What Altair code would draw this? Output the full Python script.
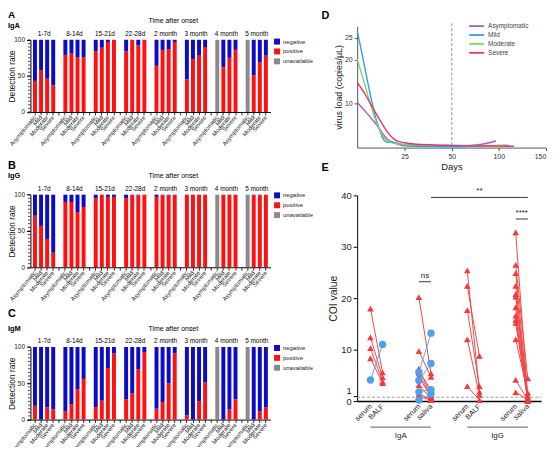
import altair as alt
import pandas as pd

FONT = "Liberation Sans"

# ---------------- panels A-C : detection rate ----------------
groups = ["1-7d", "8-14d", "15-21d", "22-28d", "2 month", "3 month", "4 month", "5 month"]
severities = ["Asymptomatic", "Mild", "Moderate", "Severe"]
statuses = ["negative", "positive", "unavailable"]
status_colors = ["#0c0cc4", "#ff1111", "#8a8a8a"]

# positive rate (%) per group x severity; None = unavailable
iga_positive = [43, 58, 46, 37,
                79, 81, 76, 76,
                84, 89, 97, 100,
                84, 100, 92, 100,
                64, 86, 87, 97,
                45, 73, 78, 90,
                None, 62, 75, 86,
                None, 51, 69, 78]
igg_positive = [71, 57, 39, 20,
                90, 90, 76, 83,
                95, 100, 97, 97,
                95, 100, 99, 100,
                97, 100, 99, 100,
                100, 100, 100, 100,
                None, 100, 100, 100,
                None, 100, 99, 100]
igm_positive = [19, 0, 17, 14,
                11, 21, 42, 56,
                17, 26, 71, 91,
                28, 36, 69, 93,
                15, 24, 50, 91,
                6, 0, 25, 51,
                None, 0, 14, 28,
                None, 0, 11, 17]
minor_ticks = list(range(0, 101, 5))

# ---------------- panel D : virus load ----------------
d_series = ["Asymptomatic", "Mild", "Moderate", "Severe"]
d_colors = ["#a35bc8", "#2b9ef2", "#80d65b", "#ea336c"]
d_days_asym = [0, 5, 10, 16, 20, 25, 35, 50, 60, 70, 80, 90, 97]
d_load_asym = [10.3, 7.9, 5.3, 1.9, 1.0, 0.4, 0.3, 0.3, 0.35, 0.5, 0.7, 1.1, 1.5]
d_days_mild = [0, 2, 4, 6, 8, 10, 12, 14, 16, 18, 20, 25, 35, 50, 70, 90, 111]
d_load_mild = [26.6, 22.5, 18.3, 14.0, 10.0, 6.5, 3.8, 1.8, 1.2, 1.3, 1.1, 0.6, 0.3, 0.2, 0.3, 0.4, 0.5]
d_days_mod = [0, 2, 4, 6, 8, 10, 12, 14, 17, 20, 25, 35, 50, 70, 90, 108]
d_load_mod = [20.1, 17.3, 14.4, 11.3, 8.4, 5.9, 3.9, 2.4, 1.3, 0.9, 0.7, 0.6, 0.5, 0.5, 0.5, 0.6]
d_days_sev = [0, 4, 7, 11, 14, 18, 21, 25, 30, 40, 50, 70, 90, 116]
d_load_sev = [14.8, 12.3, 10.0, 7.0, 4.8, 2.5, 1.5, 1.1, 0.8, 0.6, 0.5, 0.4, 0.35, 0.3]
d_cutoff_day = [50]

# ---------------- panel E : COI values ----------------
e_labels = ["serum", "BALF", "serum", "saliva", "serum", "BALF", "serum", "saliva"]
e_groups = ["IgA", "IgG"]
iga_balf_red_serum = [18.0, 12.4, 10.3, 8.3]
iga_balf_red_balf = [5.6, 4.6, 3.8, 3.5]
iga_balf_blue_serum = [4.1]
iga_balf_blue_balf = [11.0]
iga_sal_red_serum = [20.2, 9.7, 6.3, 5.8, 5.4, 4.7, 3.1, 1.4, 0.9]
iga_sal_red_saliva = [5.4, 4.7, 1.3, 2.2, 1.0, 0.8, 0.5, 0.3, 0.2]
iga_sal_blue_serum = [5.6, 4.0, 1.8, 0.2]
iga_sal_blue_saliva = [13.2, 7.3, 2.2, 1.4]
igg_balf_red_serum = [25.4, 22.4, 17.7, 12.0, 2.9]
igg_balf_red_balf = [1.8, 8.8, 2.9, 1.2, 0.2]
igg_sal_red_serum = [32.8, 26.5, 24.9, 22.4, 20.8, 20.3, 18.2, 16.6, 15.8, 15.2, 12.0, 4.1, 1.7]
igg_sal_red_saliva = [0.5, 4.4, 0.9, 0.3, 0.1, 0.6, 0.2, 0.0, 0.4, 0.1, 1.6, 0.2, 0.3]
e_cutoff = [0.75]
sig_from = [3, 2, 6]       # category index
sig_to = [7, 3, 7]
sig_level = [39.6, 23.2, 35.4]
sig_text = ["**", "ns", "****"]

# ================= canvas layout (pixels inside one 550 x 439 view) =================
CW, CH = 550, 439
BAR_LEFT, BAR_RIGHT = 22.7, 265.3
D_LEFT, D_MID, D_RIGHT, D_TOP, D_BOTTOM = 353, 448.7, 543.7, 16, 138.7
E_LEFT, E_RIGHT, E_TOP, E_BOTTOM = 353, 539, 187, 395


def text_at(txt, x, y, size, weight="normal", align="left", baseline="middle", color="black"):
    return alt.Chart(pd.DataFrame({"t": [txt]})).mark_text(
        align=align, baseline=baseline, fontSize=size, fontWeight=weight, color=color, font=FONT
    ).encode(x=alt.value(x), y=alt.value(y), text="t:N")


x_domain = []
for gi, g in enumerate(groups):
    if gi > 0:
        x_domain.append(f"gap{gi}|")
    for s in severities:
        x_domain.append(f"{g}|{s}")


def bar_rows(positives):
    rows = []
    for gi, g in enumerate(groups):
        for si, s in enumerate(severities):
            p = positives[gi * 4 + si]
            key = f"{g}|{s}"
            if p is None:
                rows.append({"id": key, "status": "unavailable", "rate": 100, "ord": 2})
            else:
                rows.append({"id": key, "status": "positive", "rate": p, "ord": 0})
                rows.append({"id": key, "status": "negative", "rate": 100 - p, "ord": 1})
    return pd.DataFrame(rows)


def bar_panel(letter, ig, positives, top, bottom, letter_base, letter_size, ig_y, time_y, head_y, legend_y):
    x_scale = alt.Scale(domain=x_domain, range=[BAR_LEFT, BAR_RIGHT], paddingInner=0.35, paddingOuter=0.42)
    x_axis = alt.Axis(orient="bottom", offset=bottom - CH, title=None,
                      labelExpr="split(datum.value, '|')[1]", labelAngle=310,
                      labelAlign="right", labelBaseline="middle", labelFontSize=6, labelPadding=1,
                      tickSize=3, tickColor="black", domainColor="black", labelColor="#222",
                      tickWidth=0.8, domainWidth=1, labelOverlap=False)
    y_scale = alt.Scale(domain=[0, 100], range=[bottom, top], nice=False)
    y_axis = alt.Axis(orient="left", offset=-BAR_LEFT, values=[0, 50, 100], title="Detection rate",
                      titleFontSize=8.5, titleFontWeight="normal", titleX=-14, titleBaseline="bottom",
                      labelFontSize=6.5, labelPadding=2, tickSize=4, tickColor="black",
                      domainColor="black", labelColor="#222", titleColor="#111")
    bars = alt.Chart(bar_rows(positives)).mark_bar().encode(
        x=alt.X("id:N", scale=x_scale, axis=x_axis),
        y=alt.Y("rate:Q", stack="zero", scale=y_scale, axis=y_axis),
        color=alt.Color("status:N", scale=alt.Scale(domain=statuses, range=status_colors),
                        legend=alt.Legend(orient="none", legendX=269, legendY=legend_y, title=None,
                                          symbolType="square", symbolSize=36, symbolStrokeWidth=0,
                                          labelFontSize=6, labelOffset=3, rowPadding=4, padding=0,
                                          labelColor="#222", labelFont=FONT)),
        order=alt.Order("ord:Q"),
    )
    minor = alt.Chart(pd.DataFrame({"rate": minor_ticks})).mark_rule(color="black", strokeWidth=0.7).encode(
        y=alt.Y("rate:Q", scale=y_scale, axis=y_axis), x=alt.value(BAR_LEFT - 2.5), x2=alt.value(BAR_LEFT)
    )
    head = alt.Chart(pd.DataFrame({"id": [f"{g}|Mild" for g in groups], "g": groups})).mark_text(
        dx=3.07, fontSize=6.5, baseline="middle", font=FONT, color="black"
    ).encode(x=alt.X("id:N", scale=x_scale, axis=x_axis), y=alt.value(head_y), text="g:N")
    return alt.layer(
        bars, minor, head,
        text_at("Time after onset", 142, time_y, 7),
        text_at(ig, 0, ig_y, 7.5, weight="bold"),
        text_at(letter, 0, letter_base, letter_size, weight="bold", baseline="alphabetic"),
    )


panel_a = bar_panel("A", "IgA", iga_positive, 29.7, 102.7, 8, 10, 16, 11, 24.3, 28.5)
panel_b = bar_panel("B", "IgG", igg_positive, 186.3, 259.7, 160, 11, 167, 167, 180.3, 184)
panel_c = bar_panel("C", "IgM", igm_positive, 340.3, 413.7, 310, 11, 322, 322, 334.3, 338.3)

# ================= panel D =================
d_rows = []
for name, days, loads in [("Asymptomatic", d_days_asym, d_load_asym), ("Mild", d_days_mild, d_load_mild),
                          ("Moderate", d_days_mod, d_load_mod), ("Severe", d_days_sev, d_load_sev)]:
    for dd, ll in zip(days, loads):
        d_rows.append({"group": name, "day": dd, "load": ll})
d_df = pd.DataFrame(d_rows)

d_x_scale = alt.Scale(domain=[0, 50, 150], range=[D_LEFT, D_MID, D_RIGHT], nice=False, zero=False)
d_x_axis = alt.Axis(orient="bottom", offset=D_BOTTOM - CH, values=[25, 50, 100, 150], title="Days",
                    titleFontSize=9.5, titleFontWeight="normal", titlePadding=2, labelFontSize=7,
                    labelPadding=2, tickSize=3, domainColor="#555", tickColor="#555", labelColor="#333",
                    titleColor="#222")
d_y_scale = alt.Scale(domain=[0, 27.6], range=[D_BOTTOM, D_TOP], nice=False)
d_y_axis = alt.Axis(orient="left", offset=-D_LEFT, values=[10, 20, 25], title="virus load (copies/μL)",
                    titleFontSize=9, titleFontWeight="normal", titleX=-14, titleBaseline="bottom",
                    labelFontSize=7, labelPadding=2, tickSize=3, domainColor="#555", tickColor="#555",
                    labelColor="#333", titleColor="#222")

d_lines = alt.Chart(d_df).mark_line(interpolate="monotone", strokeWidth=1.4).encode(
    x=alt.X("day:Q", scale=d_x_scale, axis=d_x_axis),
    y=alt.Y("load:Q", scale=d_y_scale, axis=d_y_axis),
    color=alt.Color("group:N", scale=alt.Scale(domain=d_series, range=d_colors),
                    legend=alt.Legend(orient="none", legendX=468.7, legendY=10.9, title=None,
                                      symbolType="M-2,0H2", symbolSize=56, symbolStrokeWidth=1.8,
                                      labelFontSize=6.5, labelOffset=6.7, rowPadding=0, padding=0,
                                      labelColor="#444", labelFont=FONT)),
)
d_rule = alt.Chart(pd.DataFrame({"day": d_cutoff_day})).mark_rule(
    strokeDash=[3, 2], color="#777", strokeWidth=0.8
).encode(x=alt.X("day:Q", scale=d_x_scale, axis=d_x_axis), y=alt.value(D_TOP - 3), y2=alt.value(D_BOTTOM))
panel_d = alt.layer(
    d_rule, d_lines,
    text_at("D", 317, 9, 11, weight="bold", baseline="alphabetic"),
)

# ================= panel E =================


def slot(i):
    return 1 + i + 2 * (i // 2)


comparisons = [
    (0, iga_balf_red_serum, iga_balf_red_balf, "red"),
    (0, iga_balf_blue_serum, iga_balf_blue_balf, "blue"),
    (1, iga_sal_red_serum, iga_sal_red_saliva, "red"),
    (1, iga_sal_blue_serum, iga_sal_blue_saliva, "blue"),
    (2, igg_balf_red_serum, igg_balf_red_balf, "red"),
    (3, igg_sal_red_serum, igg_sal_red_saliva, "red"),
]
e_rows = []
pid = 0
for ci, serum_vals, other_vals, kind in comparisons:
    for sv, ov in zip(serum_vals, other_vals):
        e_rows.append({"pair": pid, "slot": slot(2 * ci), "coi": sv, "kind": kind})
        e_rows.append({"pair": pid, "slot": slot(2 * ci + 1), "coi": ov, "kind": kind})
        pid += 1
e_df = pd.DataFrame(e_rows)
red_df = e_df[e_df["kind"] == "red"]
blue_df = e_df[e_df["kind"] == "blue"]

label_arr = [""] * 16
for i, lab in enumerate(e_labels):
    label_arr[slot(i)] = lab
label_expr = "[" + ",".join(f"'{v}'" for v in label_arr) + "][datum.value]"

e_x_scale = alt.Scale(domain=[-0.1, 15.1], range=[E_LEFT, E_RIGHT], nice=False, zero=False)
e_x_axis = alt.Axis(orient="bottom", offset=E_BOTTOM - CH, values=[slot(i) for i in range(len(e_labels))],
                    labelExpr=label_expr, title=None, ticks=False, labelAngle=315, labelAlign="right",
                    labelBaseline="middle", labelFontSize=7.5, labelPadding=4, domainColor="black",
                    domainWidth=1.5, labelColor="#222", labelOverlap=False)
e_y_scale = alt.Scale(domain=[0, 40], range=[E_BOTTOM, E_TOP], nice=False)
e_y_axis = alt.Axis(orient="left", offset=-E_LEFT, values=[0, 1, 10, 20, 30, 40], title="COI value",
                    titleFontSize=10.5, titleFontWeight="normal", titleX=-19, titleBaseline="bottom",
                    labelFontSize=9.5, labelOverlap=False, labelPadding=2, tickSize=4, tickColor="black",
                    labelOffset={"condition": {"test": "datum.value == 1", "value": -5}, "value": 0},
                    domainColor="black", labelColor="#222", titleColor="#222")

RED, BLUE = "#f23b3b", "#4da1ee"
RED_LINE, BLUE_LINE = "#f04a4a", "#5aa9ef"


def e_x(field="slot"):
    return alt.X(f"{field}:Q", scale=e_x_scale, axis=e_x_axis)


def e_y(field="coi"):
    return alt.Y(f"{field}:Q", scale=e_y_scale, axis=e_y_axis)


e_cut = alt.Chart(pd.DataFrame({"coi": e_cutoff})).mark_rule(
    strokeDash=[3, 2], color="#9a9a9a", strokeWidth=1
).encode(y=e_y(), x=alt.value(E_LEFT), x2=alt.value(E_RIGHT))
red_lines = alt.Chart(red_df).mark_line(color=RED_LINE, strokeWidth=1).encode(x=e_x(), y=e_y(), detail="pair:N")
red_pts = alt.Chart(red_df).mark_point(shape="triangle-up", filled=True, color=RED, size=45, opacity=1).encode(
    x=e_x(), y=e_y())
blue_lines = alt.Chart(blue_df).mark_line(color=BLUE_LINE, strokeWidth=1).encode(x=e_x(), y=e_y(), detail="pair:N")
blue_pts = alt.Chart(blue_df).mark_point(shape="circle", filled=True, color=BLUE, size=55, opacity=1).encode(
    x=e_x(), y=e_y())

grp_df = pd.DataFrame({
    "s0": [slot(0), slot(4)],
    "s1": [slot(3), slot(7)],
    "name": e_groups,
})
grp_df["mid"] = (grp_df["s0"] + grp_df["s1"]) / 2
grp_lines = alt.Chart(grp_df).mark_rule(color="#333", strokeWidth=0.8).encode(
    x=e_x("s0"), x2="s1:Q", y=alt.value(E_BOTTOM + 26.3))
grp_text = alt.Chart(grp_df).mark_text(fontSize=8, font=FONT, color="#222", baseline="middle").encode(
    x=e_x("mid"), y=alt.value(E_BOTTOM + 35.5), text="name:N")

sig_df = pd.DataFrame({
    "s0": [slot(i) for i in sig_from],
    "s1": [slot(i) for i in sig_to],
    "lvl": sig_level,
    "lab": sig_text,
})
sig_df["mid"] = (sig_df["s0"] + sig_df["s1"]) / 2
sig_lines = alt.Chart(sig_df).mark_rule(color="#333", strokeWidth=1).encode(
    x=e_x("s0"), x2="s1:Q", y=e_y("lvl"))
sig_lab = alt.Chart(sig_df).mark_text(fontSize=8, font=FONT, color="#222", baseline="bottom", dy=-2).encode(
    x=e_x("mid"), y=e_y("lvl"), text="lab:N")

panel_e = alt.layer(
    e_cut, red_lines, red_pts, blue_lines, blue_pts, grp_lines, grp_text, sig_lines, sig_lab,
    text_at("E", 317, 162, 11, weight="bold", baseline="alphabetic"),
)

chart = alt.layer(panel_a, panel_b, panel_c, panel_d, panel_e).resolve_scale(
    x="independent", y="independent", color="independent"
).resolve_axis(x="independent", y="independent").properties(
    width=CW, height=CH, autosize=alt.AutoSizeParams(type="none"), padding=0
).configure(font=FONT).configure_view(strokeWidth=0).configure_axis(
    grid=False, labelFont=FONT, titleFont=FONT
).configure_legend(labelFont=FONT)

chart.save("out.html", embed_options={"renderer": "svg", "actions": False})
